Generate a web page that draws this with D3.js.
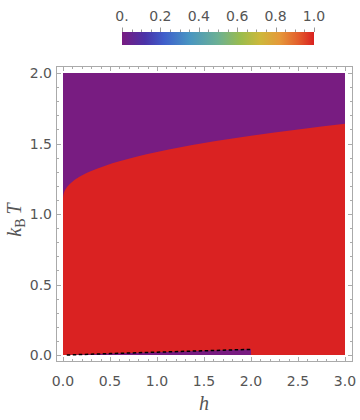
<!DOCTYPE html>
<html><head><meta charset="utf-8">
<script src="https://cdn.jsdelivr.net/npm/d3@7"></script>
<style>body{margin:0;background:#fff}svg{display:block}</style>
</head><body>
<script>
// ---- data ----
const boundaryH = [0, 0.001, 0.003, 0.006, 0.01, 0.02, 0.035, 0.05, 0.075, 0.1, 0.15, 0.2, 0.3, 0.45, 0.6, 0.8, 1.0, 1.25, 1.5, 1.75, 2.0, 2.5, 3.0];
const boundaryT = [1.10, 1.118, 1.13, 1.14, 1.149, 1.166, 1.183, 1.196, 1.214, 1.229, 1.253, 1.273, 1.305, 1.343, 1.374, 1.41, 1.44, 1.473, 1.503, 1.53, 1.555, 1.60, 1.64];
const wedgeH = [0.04, 0.5, 1.0, 1.5, 2.0];
const wedgeT = [0.0, 0.01, 0.02, 0.03, 0.04];
const xTicks = [0, 0.5, 1.0, 1.5, 2.0, 2.5, 3.0];
const yTicks = [0, 0.5, 1.0, 1.5, 2.0];
const cbTicks = [0, 0.2, 0.4, 0.6, 0.8, 1.0];
const cbLabels = ["0.", "0.2", "0.4", "0.6", "0.8", "1.0"];
const rainbowStops = [[0, "#781c81"], [0.12, "#4a33a8"], [0.22, "#3f5fcb"], [0.35, "#4895c2"], [0.5, "#6cb094"], [0.62, "#9bbc4c"], [0.72, "#cdb83b"], [0.82, "#e5993a"], [0.92, "#e35d2c"], [1, "#d92120"]];
const purple = "#781c81", red = "#da2222";

const W = 360, H = 420;
const svg = d3.select("body").append("svg").attr("width", W).attr("height", H);
const x = d3.scaleLinear().domain([0, 3]).range([63, 345]);
const y = d3.scaleLinear().domain([0, 2]).range([355, 73]);
const frame = {x0: 56.5, x1: 352.5, y0: 66.5, y1: 361.5};
const textCol = "#555", frameCol = "#aaa";

// regions
svg.append("rect").attr("x", x(0)).attr("y", y(2)).attr("width", x(3) - x(0)).attr("height", y(0) - y(2)).attr("fill", purple);
const bd = boundaryH.map((h, i) => [h, boundaryT[i]]);
svg.append("path").datum(bd).attr("fill", red)
  .attr("d", d3.area().x(d => x(d[0])).y0(y(0)).y1(d => y(d[1])).curve(d3.curveMonotoneX));
const wd = wedgeH.map((h, i) => [h, wedgeT[i]]);
svg.append("path").datum(wd).attr("fill", purple)
  .attr("d", d3.area().x(d => x(d[0])).y0(y(0)).y1(d => y(d[1])));
svg.append("path").datum(wd).attr("fill", "none").attr("stroke", "#000").attr("stroke-width", 1.5).attr("stroke-dasharray", "3.5,2.5")
  .attr("d", d3.line().x(d => x(d[0])).y(d => y(d[1])));

// frame
svg.append("rect").attr("x", frame.x0).attr("y", frame.y0).attr("width", frame.x1 - frame.x0).attr("height", frame.y1 - frame.y0)
  .attr("fill", "none").attr("stroke", frameCol).attr("stroke-width", 1);
const g = svg.append("g").attr("stroke", frameCol).attr("stroke-width", 1);
d3.range(0, 3.001, 0.1).forEach(v => {
  const major = Math.abs(v * 2 - Math.round(v * 2)) < 1e-6;
  const L = major ? 4.5 : 2.5, px = Math.round(x(v)) + 0.5;
  g.append("line").attr("x1", px).attr("x2", px).attr("y1", frame.y1).attr("y2", frame.y1 - L);
  g.append("line").attr("x1", px).attr("x2", px).attr("y1", frame.y0).attr("y2", frame.y0 + L);
});
d3.range(0, 2.001, 0.1).forEach(v => {
  const major = Math.abs(v * 2 - Math.round(v * 2)) < 1e-6;
  const L = major ? 4.5 : 2.5, py = Math.round(y(v)) + 0.5;
  g.append("line").attr("y1", py).attr("y2", py).attr("x1", frame.x0).attr("x2", frame.x0 + L);
  g.append("line").attr("y1", py).attr("y2", py).attr("x1", frame.x1).attr("x2", frame.x1 - L);
});
const font = "'DejaVu Sans', sans-serif";
svg.selectAll(".xt").data(xTicks).enter().append("text")
  .attr("x", d => x(d)).attr("y", 386).attr("text-anchor", "middle")
  .attr("font-family", font).attr("font-size", 14).attr("fill", textCol).text(d => d.toFixed(1));
svg.selectAll(".yt").data(yTicks).enter().append("text")
  .attr("x", 52).attr("y", d => y(d) + 5).attr("text-anchor", "end")
  .attr("font-family", font).attr("font-size", 14).attr("fill", textCol).text(d => d.toFixed(1));

// axis titles
svg.append("text").attr("x", 204).attr("y", 410).attr("text-anchor", "middle")
  .attr("font-family", "'Liberation Serif', serif").attr("font-style", "italic").attr("font-size", 20).attr("fill", textCol).text("h");
const yl = svg.append("text").attr("transform", "translate(21,220) rotate(-90)").attr("text-anchor", "middle")
  .attr("font-family", "'Liberation Serif', serif").attr("font-size", 20).attr("fill", textCol);
yl.append("tspan").attr("font-style", "italic").text("k");
yl.append("tspan").attr("font-size", 14).attr("dy", 4).text("B");
yl.append("tspan").attr("dy", -4).text("\u2009");
yl.append("tspan").attr("font-style", "italic").text("T");

// colorbar
const cb = d3.scaleLinear().domain([0, 1]).range([122, 314]);
const grad = svg.append("defs").append("linearGradient").attr("id", "rb");
grad.selectAll("stop").data(rainbowStops).enter().append("stop")
  .attr("offset", d => d[0]).attr("stop-color", d => d[1]);
svg.append("rect").attr("x", cb(0)).attr("y", 32).attr("width", cb(1) - cb(0)).attr("height", 13).attr("fill", "url(#rb)");
const cg = svg.append("g").attr("stroke", "#999").attr("stroke-width", 1);
d3.range(0, 1.0001, 0.05).forEach(v => {
  const major = Math.abs(v * 5 - Math.round(v * 5)) < 1e-6;
  const px = Math.round(cb(v)) + 0.5;
  cg.append("line").attr("x1", px).attr("x2", px).attr("y1", 32).attr("y2", major ? 27.5 : 29.5);
});
svg.selectAll(".cbt").data(cbTicks).enter().append("text")
  .attr("x", (d, i) => cb(d)).attr("y", 21).attr("text-anchor", "middle")
  .attr("font-family", font).attr("font-size", 14).attr("fill", textCol).text((d, i) => cbLabels[i]);
</script>
</body></html>
